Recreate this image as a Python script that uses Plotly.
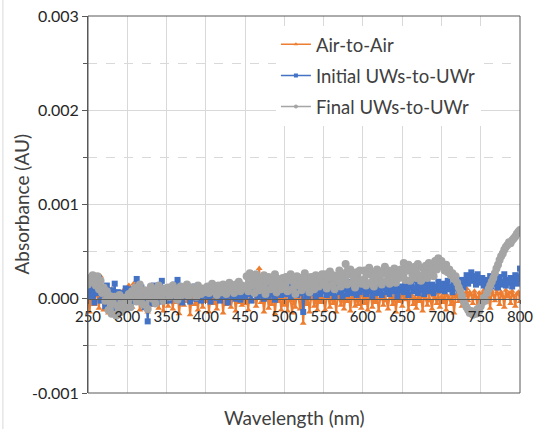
import plotly.graph_objects as go

# Wavelength grid (nm), 2 nm step
wavelength = list(range(250, 801, 2))

# Absorbance values in units of 1e-5 AU
air_to_air = [
    12, -14, 5, 8, -6, 15, 3, -10, 24, 6, -12, 9, 2, -15, 4, 10, -8, 1, 7, -16, 3, -4, 8, -11, 2,
    -6, 14, 3, -9, 16, 5, -3, 8, -12, 2, 11, -5, 6, -14, 1, 9, -7, 4, -2, 12, -10, 3, 7, -13, 0,
    5, -8, 10, 2, -11, 6, -4, 9, -16, 1, 4, -7, 12, -3, 5, -17, 2, 8, -6, 3, -12, 7, 0, -9, 4,
    -3, 6, -14, 2, 8, -5, 1, -11, 5, -2, 7, -15, 3, -6, 4, 9, -9, 0, 6, -13, 2, -4, 8, -7, 3,
    -5, 4, -12, 7, -3, 25, 6, -8, 2, 32, -4, 5, -14, 1, 7, -10, 3, -6, 8, -16, 2, -3, 6, -12, 0,
    -7, 3, -13, 5, -2, -15, 4, -9, 6, 1, -11, 3, -26, 2, -6, 5, -14, 0, 4, -8, 3, -12, 6, -4, 1,
    -3, -12, 4, 1, -9, 6, -5, 2, -14, 3, 0, -7, 5, -11, 2, -3, 6, -13, 1, 4, -8, 2, -6, 5, -10,
    3, -5, 7, -12, 1, 4, -9, 2, -4, 6, -13, 0, 3, -7, 5, -2, -11, 4, 1, -6, 6, -14, 2, -3, 5,
    -8, 3, -1, 5, -12, 2, 4, -6, 1, -10, 6, -3, 2, -13, 4, 0, -7, 5, -2, -11, 3, 1, -5, 6, -9,
    2, -4, 5, -12, 3, 0, -6, 4, -15, 2, 5, -3, 1, -8, 6, 3, 11, -2, 7, 4, -5, 8, 2, -9, 6,
    -7, 5, 9, -4, 6, 2, -10, 8, 4, -2, 10, 5, -6, 7, 3, -9, 9, 2, 6, -5, 8, 3, -8, 5, 7,
    -3,
]

initial_uws = [
    8, 15, 3, 20, -4, 10, 6, 22, -2, 12, 5, -8, 14, 2, 9, -6, 4, 16, -10, 7, 1, -12, 6, 3, 11,
    4, -6, 10, 2, -3, 8, 21, 5, -2, 12, 6, -9, 3, -24, 7, 1, -5, 14, 4, 9, -3, 6, 19, 2, 8,
    5, 12, -2, 8, 3, 15, 6, 20, 1, 9, -4, 7, 11, 2, 8, -3, 10, 5, 13, 0, 6, 9, -2, 7, 4,
    6, 2, 10, -3, 8, 4, 12, 1, 7, -2, 9, 5, 3, 11, -4, 6, 8, 2, 13, 0, 5, 9, -1, 7, 10,
    3, 9, 5, 12, -2, 8, 6, 14, 2, 10, 4, 7, 0, 11, 8, 3, 13, 5, 9, -1, 12, 6, 10, 4, 8,
    11, 5, 14, 8, 2, 12, 9, 16, 4, 10, 6, 13, -14, 7, 11, 3, 15, 9, 6, 12, 2, 10, 14, 5, 9,
    8, 13, 4, 11, 16, 6, 10, 2, 14, 9, 7, 12, 3, 15, 10, 5, 11, 18, 6, 9, 13, 4, 10, 7, 12,
    9, 14, 5, 11, 8, 17, 3, 12, 10, 6, 15, 9, 4, 13, 11, 7, 18, 5, 10, 14, 8, 12, 3, 11, 9,
    13, 7, 16, 10, 4, 12, 15, 8, 11, 20, 6, 13, 9, 14, 5, 12, 17, 8, 11, 15, 6, 13, 10, 18, 9,
    12, 16, 8, 14, 19, 10, 13, 7, 15, 11, 17, 9, 14, 20, 12, 18, 25, 16, 22, 28, 19, 24, 15, 26, 21,
    17, 22, 14, 20, 11, 18, 24, 13, 19, 16, 21, 12, 23, 15, 18, 26, 14, 20, 17, 22, 13, 19, 25, 16, 21,
    32,
]

final_uws = [
    15, 22, 18, 25, 20, 14, 24, 10, 19, 6, 12, -2, 8, -12, 3, -16, -5, 2, -18, -8, 4, -14, -6, 1, -10,
    -4, 5, -9, 8, 2, 12, -3, 6, 15, 1, -6, 9, 4, -11, 7, 13, 0, 10, -5, 6, 14, 3, 8, -2, 11,
    6, 12, 2, 9, 14, 5, 10, -1, 8, 13, 4, 11, 7, 15, 3, 9, 12, 6, 10, 2, 14, 8, 5, 11, 7,
    9, 13, 6, 11, 16, 8, 12, 4, 14, 10, 7, 15, 11, 5, 13, 17, 9, 12, 6, 15, 10, 18, 8, 14, 11,
    12, 24, 8, 27, 14, 20, 6, 26, 15, 9, 22, 11, 25, 5, 18, 23, 10, 19, 13, 26, 7, 21, 16, 10, 22,
    11, 23, 8, 20, 26, 10, 19, 5, 24, 14, 22, 9, 17, 27, 12, 21, 7, 23, 16, 10, 25, 18, 13, 21, 26,
    15, 26, 11, 22, 29, 14, 25, 10, 23, 18, 30, 13, 27, 20, 37, 15, 26, 31, 17, 24, 12, 28, 20, 30, 16,
    20, 30, 14, 26, 33, 17, 28, 13, 25, 31, 18, 29, 15, 27, 34, 19, 30, 16, 28, 21, 32, 17, 29, 22, 31,
    27, 38, 20, 30, 36, 19, 32, 23, 34, 22, 37, 25, 19, 33, 26, 35, 22, 38, 27, 33, 24, 40, 31, 43, 35,
    40, 34, 30, 36, 28, 31, 25, 27, 21, 24, 17, 12, 8, 3, -2, -6, -9, -12, -15, -13, -17, -14, -16, -11, -13,
    -8, -4, 1, -2, 6, 10, 14, 18, 22, 27, 32, 36, 41, 45, 48, 52, 55, 57, 60, 59, 62, 64, 66, 69, 71,
    73,
]

SCALE = 1e-5

# Axis tick positions and labels
x_ticks = [250, 300, 350, 400, 450, 500, 550, 600, 650, 700, 750, 800]
y_ticks = [-0.001, 0.0, 0.001, 0.002, 0.003]
y_tick_labels = ["-0.001", "0.000", "0.001", "0.002", "0.003"]

FONT = "Lato"
TEXT = "#404040"
TICK_TEXT = "#262626"

series = [
    ("Air-to-Air", air_to_air, "#ED7D31", "triangle-up", 6),
    ("Initial UWs-to-UWr", initial_uws, "#4472C4", "square", 6),
    ("Final UWs-to-UWr", final_uws, "#A5A5A5", "circle", 8),
]

fig = go.Figure()
for i, (name, vals, color, symbol, size) in enumerate(series):
    fig.add_trace(go.Scatter(
        x=wavelength,
        y=[v * SCALE for v in vals],
        name=name,
        showlegend=False,
        mode="lines+markers",
        line=dict(color=color, width=2),
        marker=dict(color=color, symbol=symbol, size=size),
    ))

# Legend keys with the slimmer line/marker style of the legend
for i, (name, vals, color, symbol, size) in enumerate(series):
    fig.add_trace(go.Scatter(
        x=[None], y=[None],
        name=name,
        legendgroup=f"g{i}",
        mode="lines+markers",
        line=dict(color=color, width=1.5),
        marker=dict(color=color, symbol=symbol, size=4),
    ))

fig.update_layout(
    width=534,
    height=429,
    margin=dict(l=88, r=14, t=16, b=36, autoexpand=False),
    paper_bgcolor="white",
    plot_bgcolor="white",
    font=dict(family=FONT, color=TEXT),
    showlegend=True,
    legend=dict(
        x=0.435, y=0.974, xanchor="left", yanchor="top",
        bgcolor="white",
        font=dict(family=FONT, size=18.5, color=TEXT),
        traceorder="grouped",
        tracegroupgap=4,
        itemwidth=30,
    ),
    xaxis=dict(
        range=[250, 800],
        tickmode="array", tickvals=x_ticks,
        anchor="free", position=0.25,
        automargin=False,
        showline=True, linecolor="#595959", linewidth=1,
        ticks="outside", ticklen=4, tickcolor="#595959",
        showgrid=True, gridcolor="#d9d9d9", gridwidth=1,
        zeroline=False,
        ticklabeloverflow="allow",
        tickfont=dict(family=FONT, size=15, color=TICK_TEXT),
    ),
    yaxis=dict(
        range=[-0.001, 0.003],
        tickmode="array", tickvals=y_ticks, ticktext=y_tick_labels,
        automargin=False,
        showline=True, linecolor="#595959", linewidth=1,
        ticks="outside", ticklen=5, tickcolor="#595959",
        showgrid=True, gridcolor="#d9d9d9", gridwidth=1,
        zeroline=False,
        tickfont=dict(family=FONT, size=16, color=TICK_TEXT),
        minor=dict(
            tickmode="linear", tick0=0, dtick=0.0005,
            showgrid=True, gridcolor="#d9d9d9",
            griddash="dash", ticks="outside", ticklen=4, tickcolor="#595959",
        ),
    ),
    shapes=[
        # plot-area frame
        dict(type="rect", xref="paper", yref="paper", x0=0, x1=1, y0=0, y1=1,
             line=dict(color="#595959", width=1), layer="above"),
        # chart-area left edge
        dict(type="line", xref="paper", yref="paper", x0=-0.197, x1=-0.197,
             y0=-0.1, y1=1.05, line=dict(color="#d9d9d9", width=1)),
    ],
    annotations=[
        dict(text="Wavelength (nm)", xref="paper", yref="paper", x=0.477, y=-0.066,
             xanchor="center", yanchor="middle", showarrow=False,
             font=dict(family=FONT, size=19, color=TEXT)),
        dict(text="Absorbance (AU)", xref="paper", yref="paper", x=-0.155, y=0.5,
             xanchor="center", yanchor="middle", showarrow=False, textangle=-90,
             font=dict(family=FONT, size=19, color=TEXT)),
    ],
)

fig.write_html("out.html")
